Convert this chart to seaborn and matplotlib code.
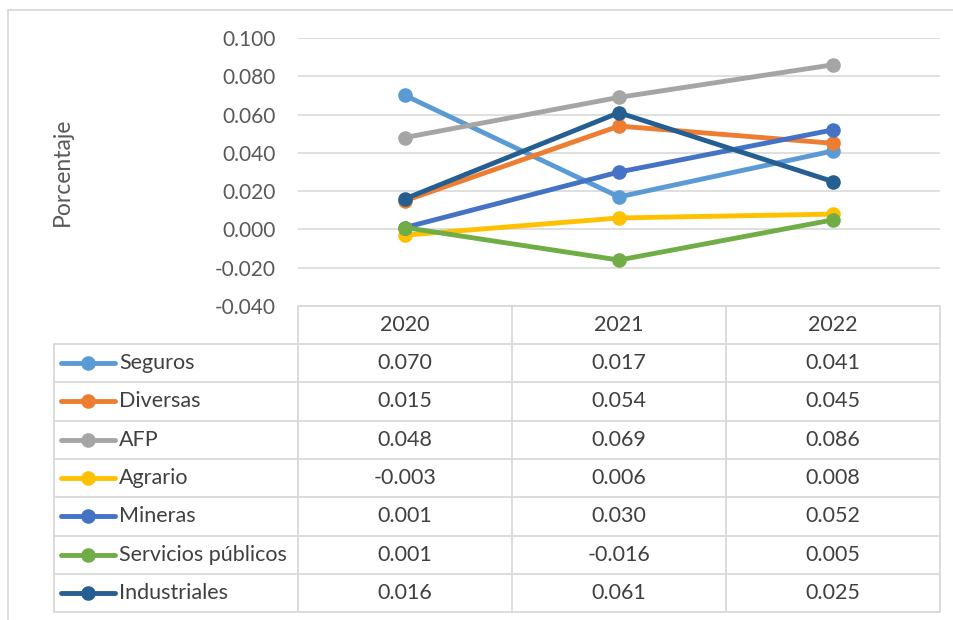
import numpy as np
import pandas as pd
import seaborn as sns
import matplotlib.pyplot as plt
from matplotlib.lines import Line2D
from matplotlib.ticker import FuncFormatter, MultipleLocator

years = ["2020", "2021", "2022"]
series_names = ["Seguros", "Diversas", "AFP", "Agrario", "Mineras",
                "Servicios públicos", "Industriales"]
seguros = [0.070, 0.017, 0.041]
diversas = [0.015, 0.054, 0.045]
afp = [0.048, 0.069, 0.086]
agrario = [-0.003, 0.006, 0.008]
mineras = [0.001, 0.030, 0.052]
servicios = [0.001, -0.016, 0.005]
industriales = [0.016, 0.061, 0.025]
colors = ["#5B9BD5", "#ED7D31", "#A5A5A5", "#FFC000", "#4472C4",
          "#70AD47", "#255E91"]

values = [seguros, diversas, afp, agrario, mineras, servicios, industriales]
rows = []
for name, vals in zip(series_names, values):
    for i, v in enumerate(vals):
        rows.append({"serie": name, "x": i, "valor": v})
df = pd.DataFrame(rows)

sns.set_theme(style="white")
plt.rcParams["font.family"] = ["Lato", "DejaVu Sans"]

W, H = 954, 620
fig = plt.figure(figsize=(W / 100, H / 100), dpi=100)
TXT = "#404040"
FS = 15.5


def fx(px):
    return px / W


def fy(py):
    return 1 - py / H


# plot area (pixel coordinates of the reference)
left, right, top, bottom = 298, 940, 38, 306
ax = fig.add_axes([fx(left), fy(bottom), fx(right - left), (bottom - top) / H])

sns.lineplot(data=df, x="x", y="valor", hue="serie", hue_order=series_names,
             palette=colors, marker="o", markersize=10.5, markeredgewidth=0,
             linewidth=3.5, legend=False, ax=ax)

ax.set_xlim(-0.5, 2.5)
ax.set_ylim(-0.040, 0.100)
ax.yaxis.set_major_locator(MultipleLocator(0.020))
ax.yaxis.set_major_formatter(FuncFormatter(lambda v, p: f"{v:.3f}"))
ax.set_xticks([])
ax.set_xlabel("")
ax.set_ylabel("")
ax.grid(axis="y", color="#d9d9d9", linewidth=1.2)
ax.set_axisbelow(True)
for s in ax.spines.values():
    s.set_visible(False)
ax.tick_params(axis="y", length=0, pad=16, labelsize=15, labelcolor="#595959")

fig.text(fx(62), fy(172), "Porcentaje", rotation=90, ha="center", va="center",
         fontsize=16.5, color="#595959")

# chart border
line_kw = dict(color="#d9d9d9", linewidth=1.3, transform=fig.transFigure)
fig.add_artist(Line2D([fx(8), fx(8)], [fy(10), fy(620)], **line_kw))
fig.add_artist(Line2D([fx(8), fx(954)], [fy(10), fy(10)], **line_kw))

# data table
col_edges = [298, 512, 726, 940]
row_edges = [344 + 38.3 * i for i in range(8)]
header_top = 306
for xe in col_edges:
    fig.add_artist(Line2D([fx(xe), fx(xe)], [fy(header_top), fy(row_edges[-1])], **line_kw))
fig.add_artist(Line2D([fx(54), fx(54)], [fy(row_edges[0]), fy(row_edges[-1])], **line_kw))
fig.add_artist(Line2D([fx(298), fx(940)], [fy(header_top), fy(header_top)], **line_kw))
for ye in row_edges:
    fig.add_artist(Line2D([fx(54), fx(940)], [fy(ye), fy(ye)], **line_kw))

col_centers = [(col_edges[i] + col_edges[i + 1]) / 2 for i in range(3)]
for cx, yr in zip(col_centers, years):
    fig.text(fx(cx), fy((header_top + row_edges[0]) / 2), yr, ha="center",
             va="center", fontsize=FS, color=TXT)

for r, (name, vals, c) in enumerate(zip(series_names, values, colors)):
    cy = (row_edges[r] + row_edges[r + 1]) / 2
    fig.add_artist(Line2D([fx(61), fx(115)], [fy(cy), fy(cy)], color=c,
                          linewidth=3.5, solid_capstyle="round",
                          transform=fig.transFigure))
    fig.add_artist(Line2D([fx(88)], [fy(cy)], color=c, marker="o",
                          markersize=10.5, markeredgewidth=0,
                          transform=fig.transFigure))
    fig.text(fx(119), fy(cy), name, ha="left", va="center", fontsize=FS,
             color=TXT)
    for cx, v in zip(col_centers, vals):
        fig.text(fx(cx), fy(cy), f"{v:.3f}", ha="center", va="center",
                 fontsize=FS, color=TXT)

fig.savefig("out.png", dpi=100, facecolor="white")
